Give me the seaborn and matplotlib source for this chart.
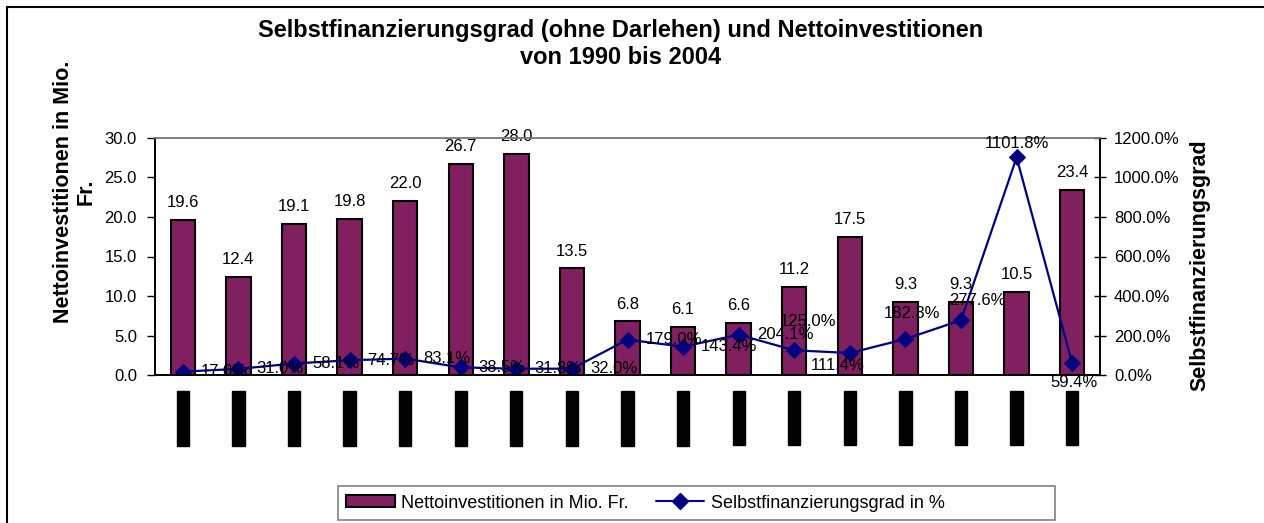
import matplotlib
matplotlib.use('Agg')
import numpy as np
import matplotlib.pyplot as plt
import matplotlib.ticker as mticker
from matplotlib.patches import Rectangle, Patch
from matplotlib.lines import Line2D
import seaborn as sns

sns.set_style('white')
plt.rcParams['font.family'] = ['Liberation Sans', 'DejaVu Sans']
plt.rcParams['text.color'] = 'black'
plt.rcParams['axes.labelcolor'] = 'black'
plt.rcParams['xtick.color'] = 'black'
plt.rcParams['ytick.color'] = 'black'

# data
years = ['1990', '1991', '1992', '1993', '1994', '1995', '1996', '1997', '1998',
         '1999', '2000', '2001', '2002', '2003', '2004', '2005', '2006']
invest = [19.6, 12.4, 19.1, 19.8, 22.0, 26.7, 28.0, 13.5, 6.8, 6.1, 6.6,
          11.2, 17.5, 9.3, 9.3, 10.5, 23.4]
rate = [17.0, 31.0, 58.1, 74.7, 83.1, 38.5, 31.8, 32.0, 179.0, 143.4, 204.1,
        125.0, 111.4, 182.3, 277.6, 1101.8, 59.4]

# label placement for the line (offset in points, alignment)
rate_label_pos = [((13, 0), 'left', 'center')] * 11 + [
    ((10, 21), 'center', 'center'),
    ((-9, -9), 'center', 'center'),
    ((5, 18), 'center', 'center'),
    ((12, 14), 'center', 'center'),
    ((0, 10), 'center', 'center'),
    ((1, -14), 'center', 'center'),
]

bar_color = '#802060'
line_color = '#000080'
W, H = 1264, 523
rect = [155 / W, 1 - 375 / H, 945 / W, 237 / H]

fig = plt.figure(figsize=(W / 100, H / 100), dpi=100)
ax = fig.add_axes(rect)

sns.barplot(x=years, y=invest, color=bar_color, edgecolor='black', linewidth=1.5,
            width=0.44, saturation=1, ax=ax)
ax.set_xlim(-0.5, len(years) - 0.5)
ax.set_ylim(0, 30)
ax.yaxis.set_major_locator(mticker.MultipleLocator(5))
ax.yaxis.set_major_formatter(mticker.FormatStrFormatter('%.1f'))

for i, v in enumerate(invest):
    ax.annotate(f'{v:.1f}', (i, v), xytext=(0, 7), textcoords='offset points',
                ha='center', va='bottom', fontsize=12)

ax2 = ax.twinx()
ax2.set_position(rect)
sns.lineplot(x=np.arange(len(years)), y=rate, color=line_color, marker='D',
             markersize=8, markeredgecolor=line_color, linewidth=1.6, ax=ax2)
ax2.set_ylim(0, 1200)
ax2.yaxis.set_major_locator(mticker.MultipleLocator(200))
ax2.yaxis.set_major_formatter(mticker.FuncFormatter(lambda v, p: f'{v:.1f}%'))
ax2.set_xlim(-0.5, len(years) - 0.5)

for i, v in enumerate(rate):
    (dx, dy), ha, va = rate_label_pos[i]
    ax2.annotate(f'{v:.1f}%', (i, v), xytext=(dx, dy), textcoords='offset points',
                 ha=ha, va=va, fontsize=12)

# spines and ticks
for a in (ax, ax2):
    a.spines['top'].set_color('#808080')
    a.spines['left'].set_color('black')
    a.spines['right'].set_color('black')
    a.spines['bottom'].set_color('black')
    for s in a.spines.values():
        s.set_linewidth(1.2)

ax.tick_params(axis='y', direction='out', length=6, width=1, labelsize=12, pad=7)
ax2.tick_params(axis='y', direction='inout', length=8, width=1, labelsize=12, pad=6)

# year labels (rendered as solid black blocks like the reference)
ax.set_xticks(np.arange(len(years)))
ax.set_xticklabels([' ' * 5 + y + ' ' * 6 for y in years], rotation=90, fontsize=7,
                   color='black', va='top')
for t in ax.get_xticklabels():
    t.set_bbox(dict(boxstyle='square,pad=0.12', facecolor='black', edgecolor='black'))
ax.tick_params(axis='x', which='major', length=0, pad=12.5)
ax.set_xticks(np.arange(len(years) + 1) - 0.5, minor=True)
ax.tick_params(axis='x', which='minor', direction='out', length=6, width=1)
ax.set_xlabel('')

ax.set_ylabel('Nettoinvestitionen in Mio.\nFr.', fontsize=15.5, fontweight='bold',
              linespacing=1.1)
ax.yaxis.set_label_coords((97 - 155) / 945, (375 - 192) / 237)
ax2.set_ylabel('Selbstfinanzierungsgrad', fontsize=15.5, fontweight='bold')
ax2.yaxis.set_label_coords(1 + (1189 - 1100) / 945, (375 - 265) / 237)

fig.text(0.491, 1 - 44 / H,
         'Selbstfinanzierungsgrad (ohne Darlehen) und Nettoinvestitionen\nvon 1990 bis 2004',
         ha='center', va='center', fontsize=17, fontweight='bold', linespacing=1.2)

# legend with its own frame
handles = [Patch(facecolor=bar_color, edgecolor='black', linewidth=1.5),
           Line2D([0], [0], color=line_color, marker='D', markersize=8, linewidth=1.5)]
fig.legend(handles, ['Nettoinvestitionen in Mio. Fr.', 'Selbstfinanzierungsgrad in %'],
           loc='center left', bbox_to_anchor=(346 / W, 1 - 503 / H),
           ncol=2, fontsize=13, frameon=False,
           handlelength=2.7, handleheight=0.6, borderpad=0, handletextpad=0.35,
           columnspacing=1.5, borderaxespad=0)
fig.patches.append(Rectangle((338 / W, 1 - 520 / H), 717 / W, 34 / H,
                             transform=fig.transFigure, fill=False,
                             edgecolor='#808080', linewidth=1.2))

# outer chart frame
fig.patches.append(Rectangle((7 / W, -0.1), 1.2, 1 - 7 / H + 0.1,
                             transform=fig.transFigure, fill=False,
                             edgecolor='black', linewidth=1.5))

fig.savefig('out.png', dpi=100)
